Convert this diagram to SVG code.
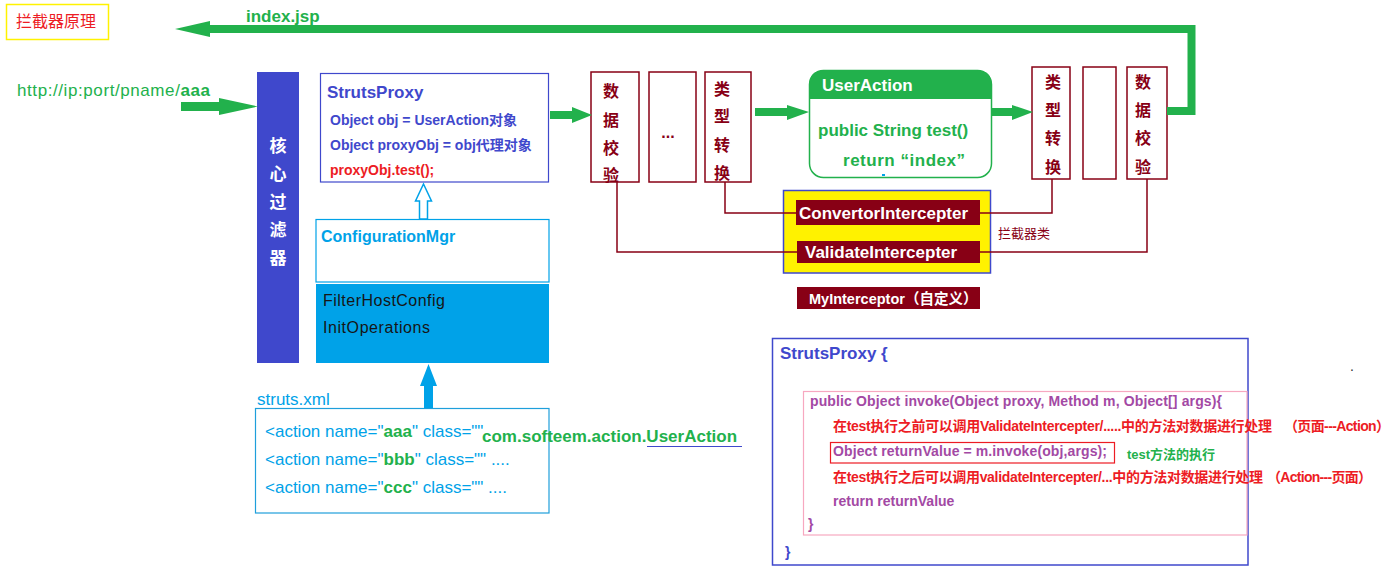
<svg xmlns="http://www.w3.org/2000/svg" width="1399" height="585" viewBox="0 0 1399 585">
<style>
text{font-family:"Liberation Sans","Noto Sans CJK SC",sans-serif}
.b{font-weight:bold}
.dr{stroke:#880015;stroke-width:1.5;fill:none}
.box{fill:#fff;stroke:#880015;stroke-width:1.5}
.vc{font-size:16px;font-weight:bold;fill:#880015;text-anchor:middle}
.gr{fill:#22B14C}
.bl{fill:#3F48CC}
.cy{fill:#00A2E8}
.pu{fill:#A349A4;font-weight:bold;font-size:14px}
.rd{fill:#ED1C24;font-weight:bold;font-size:14px}
.bar{fill:#880015}
.wt{fill:#fff;font-weight:bold}
</style>
<rect width="1399" height="585" fill="#fff"/>

<g id="title">
<rect x="6.5" y="4.5" width="102" height="35" fill="#fff" stroke="#FFF200" stroke-width="1.5"/>
<text x="16" y="27" font-size="16" fill="#ED1C24">拦截器原理</text>
</g>

<g id="url">
<text x="17" y="96" font-size="17" class="gr" textLength="193">http://ip:port/pname/<tspan class="b">aaa</tspan></text>
</g>

<g id="filter">
<rect x="257" y="72" width="42" height="291" fill="#3F48CC"/>
<text class="wt" font-size="17" text-anchor="middle"><tspan x="278" y="152">核</tspan><tspan x="278" y="180">心</tspan><tspan x="278" y="208">过</tspan><tspan x="278" y="236">滤</tspan><tspan x="278" y="264">器</tspan></text>
</g>

<g id="strutsproxy">
<rect x="320.5" y="73.5" width="228" height="108.5" fill="#fff" stroke="#3F48CC" stroke-width="1.2"/>
<text x="327" y="98" font-size="17" class="b bl">StrutsProxy</text>
<text x="330" y="125" font-size="14" class="b bl">Object obj = UserAction对象</text>
<text x="330" y="150" font-size="14" class="b bl">Object proxyObj = obj代理对象</text>
<text x="330" y="175" font-size="14" class="b" fill="#ED1C24">proxyObj.test();</text>
</g>

<g id="configmgr">
<rect x="316" y="219.5" width="233" height="62.5" fill="#fff" stroke="#00A2E8" stroke-width="1.2"/>
<text x="321" y="242" font-size="16" class="b cy">ConfigurationMgr</text>
<rect x="316" y="284" width="233" height="79" fill="#00A2E8"/>
<text x="323" y="306" font-size="16" fill="#161616" textLength="122">FilterHostConfig</text>
<text x="323" y="333" font-size="16" fill="#161616" textLength="107">InitOperations</text>
</g>

<g id="strutsxml">
<text x="257" y="405" font-size="17" class="cy">struts.xml</text>
<rect x="255.5" y="408.5" width="293.5" height="104.5" fill="#fff" stroke="#1E9FDB" stroke-width="1.2"/>
<text x="265" y="437" font-size="17" class="cy">&lt;action name="<tspan class="b gr">aaa</tspan>" class=""</text>
<text x="482" y="442" font-size="17" class="b gr">com.softeem.action.UserAction</text>
<line x1="647" y1="446.5" x2="742" y2="446.5" stroke="#3F48CC" stroke-width="1.2"/>
<text x="265" y="465" font-size="17" class="cy">&lt;action name="<tspan class="b gr">bbb</tspan>" class="" ....</text>
<text x="265" y="493" font-size="17" class="cy">&lt;action name="<tspan class="b gr">ccc</tspan>" class="" ....</text>
</g>

<g id="validate1">
<rect class="box" x="591" y="72" width="48" height="110"/>
<text class="vc"><tspan x="611" y="97">数</tspan><tspan x="611" y="126">据</tspan><tspan x="611" y="154">校</tspan><tspan x="611" y="181">验</tspan></text>
</g>
<g id="dots">
<rect class="box" x="649" y="72" width="47" height="110"/>
<text x="668" y="138" font-size="16" class="b" fill="#880015" text-anchor="middle">...</text>
</g>
<g id="convert1">
<rect class="box" x="705" y="72" width="46" height="110"/>
<text class="vc"><tspan x="722" y="95">类</tspan><tspan x="722" y="122">型</tspan><tspan x="722" y="151">转</tspan><tspan x="722" y="179">换</tspan></text>
</g>

<g id="useraction">
<rect x="809.5" y="70.5" width="182" height="107" rx="14" fill="#fff" stroke="#22B14C" stroke-width="1.5"/>
<path d="M809.5,99 V84.5 Q809.5,70.5 823.5,70.5 H977.5 Q991.5,70.5 991.5,84.5 V99 Z" fill="#22B14C"/>
<text x="822" y="91" font-size="17" class="wt">UserAction</text>
<text x="818" y="136" font-size="17" class="b gr">public String test()</text>
<text x="843" y="166" font-size="17" class="b gr" textLength="122">return “index”</text>
<rect x="882" y="174" width="3" height="2" fill="#00A2E8"/>
</g>

<g id="convert2">
<rect class="box" x="1032" y="67" width="38" height="112"/>
<text class="vc"><tspan x="1053" y="88">类</tspan><tspan x="1053" y="116">型</tspan><tspan x="1053" y="144">转</tspan><tspan x="1053" y="173">换</tspan></text>
</g>
<g id="empty">
<rect class="box" x="1083" y="67" width="33" height="112"/>
</g>
<g id="validate2">
<rect class="box" x="1127" y="67" width="40" height="112"/>
<text class="vc"><tspan x="1143" y="88">数</tspan><tspan x="1143" y="116">据</tspan><tspan x="1143" y="144">校</tspan><tspan x="1143" y="173">验</tspan></text>
</g>

<g id="interceptors">
<rect x="783.5" y="190.5" width="207" height="82.5" fill="#FFF200" stroke="#3F48CC" stroke-width="1.5"/>
<rect class="bar" x="796" y="200" width="184" height="25"/>
<text x="799" y="219" font-size="17" class="wt">ConvertorIntercepter</text>
<rect class="bar" x="797" y="241" width="183" height="22"/>
<text x="805" y="258" font-size="17" class="wt">ValidateIntercepter</text>
<text x="998" y="238" font-size="13" fill="#880015">拦截器类</text>
</g>
<g id="myinterceptor">
<rect class="bar" x="797" y="287" width="183" height="22"/>
<text x="809" y="303.5" font-size="14.5" class="wt">MyInterceptor（自定义）</text>
</g>

<g id="proxycode">
<rect x="772.5" y="338.5" width="475.5" height="226.5" fill="#fff" stroke="#3F48CC" stroke-width="1.5"/>
<text x="780" y="359" font-size="17" class="b bl">StrutsProxy {</text>
<rect x="803.5" y="391.5" width="443.5" height="143.5" fill="none" stroke="#F7A8C0" stroke-width="1.2"/>
<text x="810" y="406" class="pu" textLength="412">public Object invoke(Object proxy, Method m, Object[] args){</text>
<text x="833" y="431" class="rd" textLength="439">在test执行之前可以调用ValidateIntercepter/.....中的方法对数据进行处理</text>
<text x="1284" y="431" class="rd" textLength="106">（页面---Action）</text>
<rect x="830.5" y="442.5" width="284" height="20.5" fill="none" stroke="#ED1C24" stroke-width="1.2"/>
<text x="833" y="456" class="pu" textLength="274">Object returnValue = m.invoke(obj,args);</text>
<text x="1127" y="459" font-size="13" class="b gr">test方法的执行</text>
<text x="833" y="482" class="rd" textLength="430">在test执行之后可以调用validateIntercepter/...中的方法对数据进行处理</text>
<text x="1267" y="482" class="rd" textLength="105">（Action---页面）</text>
<text x="833" y="506" class="pu">return returnValue</text>
<text x="808" y="529" class="pu">}</text>
<text x="785" y="557" font-size="14" class="b bl">}</text>
<text x="1350" y="371" font-size="14" fill="#333">.</text>
</g>

<g id="index-label">
<text x="246" y="22" font-size="17" class="b gr">index.jsp</text>
</g>

<g id="connectors">
<path d="M1167,111 H1191.5 V29 H206" fill="none" stroke="#22B14C" stroke-width="8"/>
<polygon points="175,29 210,21 210,37" fill="#22B14C"/>
<rect x="181" y="102" width="40" height="9" fill="#22B14C"/>
<polygon points="219,98 258,106.5 219,115" fill="#22B14C"/>
<rect x="550" y="111" width="23" height="8" fill="#22B14C"/>
<polygon points="572,107 592,115 572,123" fill="#22B14C"/>
<rect x="755" y="108" width="33" height="8" fill="#22B14C"/>
<polygon points="787,105 809,112 787,120" fill="#22B14C"/>
<rect x="992" y="108" width="21" height="8" fill="#22B14C"/>
<polygon points="1012,105 1033,112 1012,120" fill="#22B14C"/>
<polygon points="423.5,184 431.5,201 427.5,201 427.5,219 419.5,219 419.5,201 415.5,201" fill="#fff" stroke="#00A2E8" stroke-width="1.5"/>
<polygon points="428.5,364 437,386 433,386 433,408 424,408 424,386 420,386" fill="#00A2E8"/>
<path class="dr" d="M617,182 V252 H797"/>
<path class="dr" d="M725,182 V213 H796"/>
<path class="dr" d="M980,213 H1052 V179"/>
<path class="dr" d="M980,252 H1147 V179"/>
</g>
</svg>
